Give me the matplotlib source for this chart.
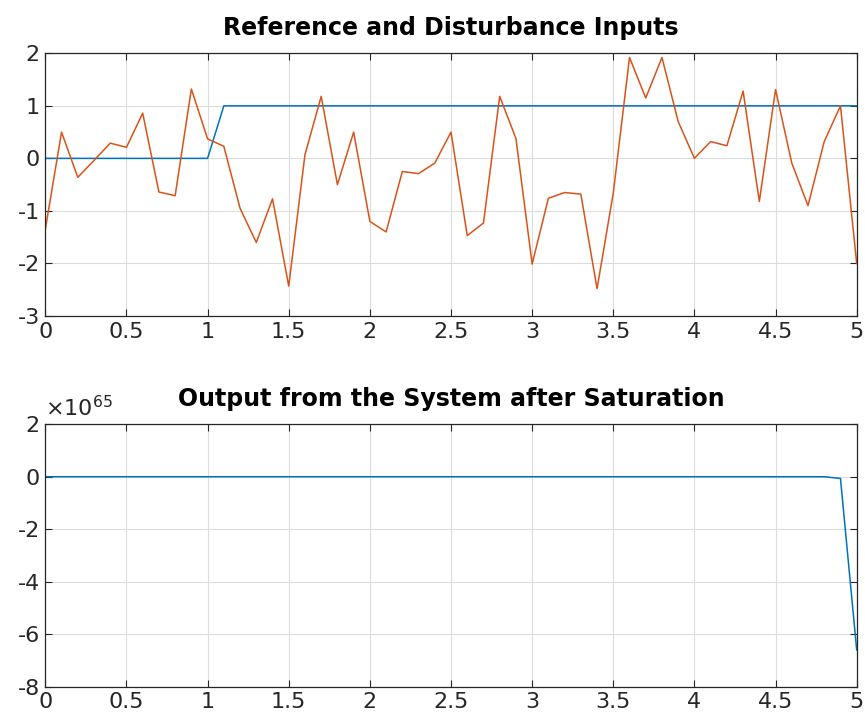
import numpy as np
import matplotlib
matplotlib.use("Agg")
import matplotlib.pyplot as plt
from matplotlib.ticker import FuncFormatter

plt.rcParams['font.family'] = ['DejaVu Sans']
plt.rcParams['axes.unicode_minus'] = False

# time base, 0.1 s steps
t = np.arange(0, 51) * 0.1

# reference step (ramps from 1.0 to 1.1)
reference = [0.0] * 11 + [1.0] * 40

# disturbance samples
disturbance = [
    -1.35, 0.50, -0.36, -0.04, 0.29, 0.21, 0.86, -0.64, -0.71, 1.32,
    0.37, 0.23, -0.95, -1.60, -0.77, -2.43, 0.07, 1.18, -0.50, 0.50,
    -1.20, -1.40, -0.25, -0.29, -0.09, 0.50, -1.47, -1.23, 1.18, 0.38,
    -2.01, -0.76, -0.65, -0.68, -2.48, -0.66, 1.92, 1.15, 1.92, 0.70,
    0.00, 0.32, 0.24, 1.28, -0.82, 1.31, -0.09, -0.90, 0.32, 1.00,
    -2.00,
]

# saturated system output (blows up at the end)
output = [0.0] * 48 + [-0.0007e65, -0.065e65, -6.6e65]

blue = '#0072BD'
orange = '#D95319'
axcol = '#262626'
FS = 16


def style(ax):
    ax.grid(True, color='#dcdcdc', linewidth=0.8)
    ax.set_axisbelow(True)
    ax.tick_params(direction='in', length=5, width=0.8, top=True, right=True,
                   labelsize=FS, colors=axcol, pad=4)
    for s in ax.spines.values():
        s.set_color(axcol)
        s.set_linewidth(0.9)
    ax.set_xlim(0, 5)
    ax.set_xticks(np.arange(0, 5.01, 0.5))
    ax.set_xticklabels(['0', '0.5', '1', '1.5', '2', '2.5', '3', '3.5', '4', '4.5', '5'])


fig = plt.figure(figsize=(8.65, 7.21), dpi=100)

ax1 = fig.add_axes([0.0524, 0.5617, 0.938, 0.3644])
ax1.plot(t, reference, color=blue, linewidth=1.1)
ax1.plot(t, disturbance, color=orange, linewidth=1.1)
style(ax1)
ax1.set_ylim(-3, 2)
ax1.set_yticks([-3, -2, -1, 0, 1, 2])
ax1.set_title('Reference and Disturbance Inputs', fontsize=17, fontweight='bold', pad=13)

ax2 = fig.add_axes([0.0524, 0.0476, 0.938, 0.364])
ax2.plot(t, output, color=blue, linewidth=1.1)
style(ax2)
ax2.set_ylim(-8e65, 2e65)
ax2.set_yticks(np.arange(-8, 2.1, 2) * 1e65)
ax2.yaxis.set_major_formatter(FuncFormatter(lambda v, p: '%g' % round(v / 1e65, 6)))
ax2.text(0.0, 1.015, r'$\times10^{65}$', transform=ax2.transAxes, fontsize=FS,
         color=axcol, ha='left', va='bottom')
ax2.set_title('Output from the System after Saturation', fontsize=17, fontweight='bold', pad=13)

fig.savefig('out.png', dpi=100)
